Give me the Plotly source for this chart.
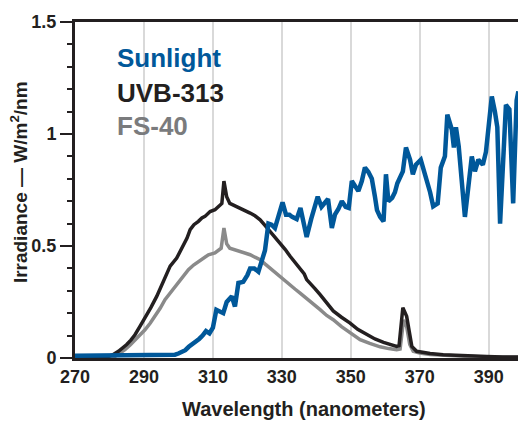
import plotly.graph_objects as go

# ---- data ----
sun_nm = [270, 275, 280, 285, 290, 295, 298, 299, 300, 301, 302, 303, 304, 305, 306, 307, 308, 309, 310,
          311, 312, 313, 314, 315, 315.5, 316.4, 317.4, 318.8, 320, 320.8, 322, 323.2, 324.2, 325.1, 326.1,
          327, 328, 329, 330.2, 331.2, 332.2, 333, 334.3, 335.4, 336.3, 337.2, 338.5, 339.5, 340.4, 341.5,
          342.5, 343.4, 344.5, 345.4, 346.4, 347.4, 348.5, 349.4, 350.3, 351.3, 352.2, 353.2, 354.1, 355.1,
          356.1, 357, 357.6, 358.5, 359.5, 360.2, 360.9, 362, 362.8, 363.5, 364.2, 365.1, 366, 367.2, 368,
          368.9, 370.3, 371.2, 372, 373, 373.9, 375.2, 376.1, 377.3, 378, 378.7, 379.3, 379.9, 380.5, 381.3,
          383.1, 385.1, 386, 387, 387.7, 388.3, 389.2, 390, 390.9, 391.8, 392.5, 393.3, 395, 396, 397.1,
          398.1, 398.6]
sun_val = [0.01, 0.01, 0.01, 0.01, 0.01, 0.01, 0.012, 0.015, 0.02, 0.025, 0.035, 0.05, 0.06, 0.075, 0.085,
           0.1, 0.12, 0.11, 0.135, 0.215, 0.21, 0.2, 0.25, 0.265, 0.275, 0.23, 0.335, 0.34, 0.37, 0.40, 0.40,
           0.385, 0.44, 0.48, 0.60, 0.595, 0.58, 0.63, 0.695, 0.64, 0.64, 0.63, 0.62, 0.67, 0.60, 0.54, 0.62,
           0.68, 0.72, 0.675, 0.69, 0.71, 0.58, 0.64, 0.665, 0.70, 0.675, 0.67, 0.79, 0.765, 0.745, 0.79,
           0.85, 0.83, 0.80, 0.72, 0.66, 0.63, 0.61, 0.82, 0.70, 0.715, 0.74, 0.78, 0.80, 0.833, 0.94, 0.885,
           0.82, 0.863, 0.885, 0.84, 0.80, 0.74, 0.677, 0.69, 0.85, 0.90, 1.086, 1.05, 1.02, 0.94, 1.03,
           0.945, 0.63, 0.90, 0.833, 0.885, 0.87, 0.863, 0.92, 1.05, 1.168, 1.10, 1.03, 0.60, 1.13, 1.11,
           0.69, 1.15, 1.19]

uvb_nm = [270, 274, 277, 279.7, 281, 282.6, 284, 285, 286.2, 287.4, 288.8, 290.3, 292, 293.7, 295.5, 297.6,
          299.5, 301.4, 302.5, 303.4, 304.5, 305.8, 306.8, 307.7, 308.5, 309.2, 310.6, 311.6, 312.6, 313.2,
          314, 314.9, 316.4, 317.9, 319.4, 320.8, 322.2, 323.7, 325.1, 326.6, 328, 329.5, 331, 332.4, 333.8,
          335.3, 336.5, 337.2, 338.2, 339.6, 341.1, 343, 344.9, 347.3, 349.8, 352, 354.6, 357, 359.5, 361.5,
          363.3, 364, 365.1, 366.2, 367.1, 367.7, 369.1, 371, 373, 376.8, 380, 385, 389.4, 394, 398.6]
uvb_val = [0.0, 0.0, 0.002, 0.007, 0.015, 0.03, 0.045, 0.06, 0.08, 0.104, 0.14, 0.178, 0.225, 0.275, 0.335,
           0.41, 0.446, 0.498, 0.535, 0.573, 0.595, 0.61, 0.625, 0.632, 0.645, 0.654, 0.662, 0.675, 0.69,
           0.79, 0.72, 0.69, 0.68, 0.67, 0.66, 0.647, 0.635, 0.617, 0.592, 0.565, 0.54, 0.513, 0.484, 0.454,
           0.427, 0.40, 0.375, 0.35, 0.335, 0.31, 0.283, 0.245, 0.21, 0.182, 0.156, 0.128, 0.104, 0.085,
           0.07, 0.06, 0.052, 0.055, 0.225, 0.186, 0.09, 0.052, 0.03, 0.025, 0.02, 0.015, 0.012, 0.009,
           0.007, 0.005, 0.004]

fs_nm = [270, 278, 280, 281.6, 283, 284.5, 286, 287.4, 288.8, 290.3, 291.8, 293.2, 294.7, 296.1, 297.6, 299,
         301, 302.9, 304.4, 305.8, 307.2, 308.7, 310.6, 311.5, 312.4, 313.2, 314, 314.9, 316.4, 317.9, 319.4,
         320.8, 322.2, 323.7, 325.1, 326.6, 328, 329.5, 331, 332.4, 333.8, 335.3, 336.8, 338.2, 339.6, 341.1,
         343, 344.9, 347.3, 349.8, 352.7, 355.5, 358.5, 361, 363.3, 364.3, 365.3, 366.2, 367.1, 368.1, 370,
         373, 377, 383, 390, 398.6]
fs_val = [0.0, 0.0, 0.003, 0.007, 0.02, 0.037, 0.058, 0.08, 0.103, 0.126, 0.155, 0.186, 0.222, 0.26, 0.29,
          0.32, 0.357, 0.394, 0.415, 0.431, 0.447, 0.461, 0.469, 0.478, 0.49, 0.58, 0.51, 0.49, 0.483, 0.476,
          0.468, 0.461, 0.45, 0.439, 0.42, 0.40, 0.382, 0.364, 0.345, 0.327, 0.308, 0.29, 0.272, 0.253, 0.235,
          0.216, 0.19, 0.171, 0.14, 0.112, 0.082, 0.065, 0.05, 0.042, 0.037, 0.04, 0.17, 0.14, 0.06, 0.03,
          0.022, 0.016, 0.012, 0.008, 0.005, 0.003]

series_names = ["Sunlight", "UVB-313", "FS-40"]
x_ticks = [270, 290, 310, 330, 350, 370, 390]
y_ticks = [0, 0.5, 1, 1.5]
y_tick_text = ["0", "0.5", "1", "1.5"]

BLUE = "#00589a"
BLACK = "#231f20"
GRAY = "#8a8a8a"
FONT = "Liberation Sans, Arial, Helvetica, sans-serif"

fig = go.Figure()
fig.add_trace(go.Scatter(x=fs_nm, y=fs_val, mode="lines", name=series_names[2],
                         line=dict(color=GRAY, width=3.5)))
fig.add_trace(go.Scatter(x=uvb_nm, y=uvb_val, mode="lines", name=series_names[1],
                         line=dict(color=BLACK, width=3.5)))
fig.add_trace(go.Scatter(x=sun_nm, y=sun_val, mode="lines", name=series_names[0],
                         line=dict(color=BLUE, width=4.5)))

# series labels
label_colors = [BLUE, BLACK, "#7a7b7d"]
label_y = [1.338, 1.184, 1.037]
for name, col, yy in zip(series_names, label_colors, label_y):
    fig.add_annotation(x=281.6, y=yy, xref="x", yref="y", text=name, showarrow=False,
                       xanchor="left", yanchor="middle",
                       font=dict(family=FONT, size=26, color=col, weight="bold"))

# axis titles as annotations
fig.add_annotation(x=-0.126, y=0.524, xref="paper", yref="paper",
                   text="Irradiance — W/m<sup>2</sup>/nm", textangle=-90, showarrow=False,
                   xanchor="center", yanchor="middle",
                   font=dict(family=FONT, size=19, color=BLACK, weight="bold"))
fig.add_annotation(x=0.517, y=-0.151, xref="paper", yref="paper",
                   text="Wavelength (nanometers)", showarrow=False,
                   xanchor="center", yanchor="middle",
                   font=dict(family=FONT, size=20, color=BLACK, weight="bold"))

fig.update_layout(
    width=518, height=422,
    margin=dict(l=75, r=0, t=22, b=64),
    paper_bgcolor="white", plot_bgcolor="white",
    showlegend=False,
    font=dict(family=FONT, color=BLACK),
    xaxis=dict(range=[270, 398.5], tickmode="array", tickvals=x_ticks,
               ticktext=[str(v) for v in x_ticks],
               showgrid=True, gridcolor="#d9d9d9", gridwidth=1.5,
               showline=True, linecolor=BLACK, linewidth=3, mirror=True,
               ticks="", zeroline=False,
               tickfont=dict(family=FONT, size=18, color=BLACK, weight="bold")),
    yaxis=dict(range=[0, 1.5], tickmode="array", tickvals=y_ticks, ticktext=y_tick_text,
               showgrid=False, zeroline=False,
               showline=True, linecolor=BLACK, linewidth=3,
               ticks="outside", ticklen=12, tickwidth=2, tickcolor=BLACK,
               minor=dict(dtick=0.1, tick0=0, ticks="outside", ticklen=5, tickwidth=2,
                          tickcolor=BLACK, showgrid=False),
               tickfont=dict(family=FONT, size=18, color=BLACK, weight="bold")),
)

fig.write_html("out.html")
